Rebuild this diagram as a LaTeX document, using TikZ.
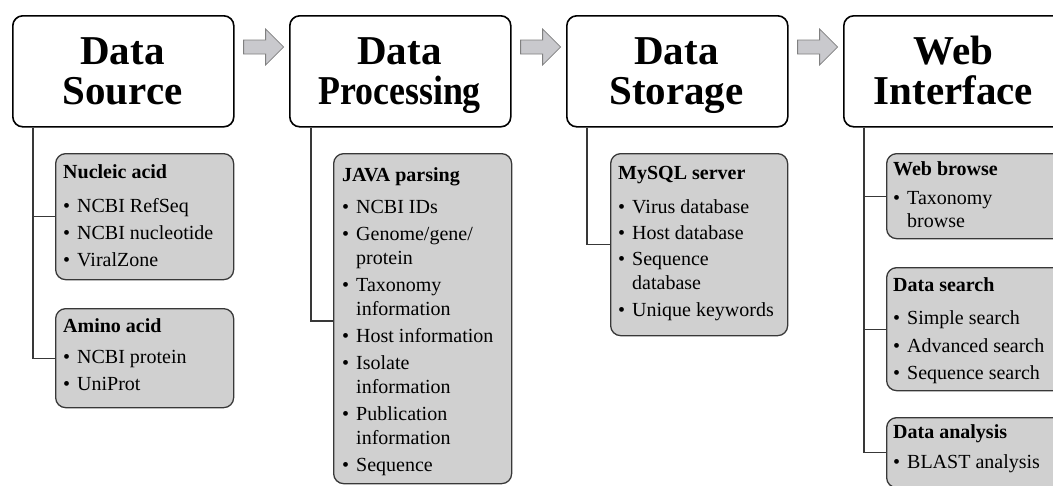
\documentclass[tikz,border=0pt]{standalone}
\usepackage{fontspec}
\setmainfont{Liberation Serif}
\usepackage{graphicx}
\usetikzlibrary{calc}
\definecolor{boxgray}{HTML}{D0D0D0}
\definecolor{arrfill}{HTML}{C9C9CD}
\definecolor{arrdraw}{HTML}{808080}
\definecolor{linegray}{HTML}{383838}
\newcommand\bul{\makebox[14pt][l]{\textbullet}}
\newcommand\ind{\hspace*{14pt}}
\begin{document}
\begin{tikzpicture}[x=1pt,y=-1pt,
  titlebox/.style={draw=black, line width=1.6pt, fill=white, rounded corners=10pt, minimum width=221pt, minimum height=111pt, inner sep=0pt, anchor=north west},
  graybox/.style={draw=linegray, line width=1.3pt, fill=boxgray, rounded corners=10pt, inner sep=0pt, anchor=north west},
  titletext/.style={inner sep=0pt, anchor=base, font=\fontsize{41}{40}\selectfont\bfseries},
  itemtext/.style={inner sep=0pt, anchor=base west, font=\fontsize{20}{24}\selectfont},
  conn/.style={draw=linegray, line width=1.1pt},
  blockarrow/.style={fill=arrfill, draw=arrdraw, line width=0.8pt, line join=miter}
]
\useasboundingbox (0,0) rectangle (1053,485);
\clip (0,0) rectangle (1053,485);

% title boxes
\node[titlebox] (src) at (12,15) {};
\node[titlebox] (proc) at (289,15) {};
\node[titlebox] (stor) at (566,15) {};
\node[titlebox] (web) at (843,15) {};

\node[titletext] (srct) at (122.5,64) {\parbox[t]{221pt}{\centering Data\\Source}};
\node[titletext] (proct) at (399.5,64) {\parbox[t]{221pt}{\centering Data\\\scalebox{0.875}[1]{Processing}}};
\node[titletext] (stort) at (676.5,64) {\parbox[t]{221pt}{\centering Data\\Storage}};
\node[titletext] (webt) at (953.5,64) {\parbox[t]{221pt}{\centering Web\\Interface}};

% block arrows
\foreach \a in {src,proc,stor}{
  \draw[blockarrow] ($(\a.north east)+(9,25)$) -- ++(22,0) -- ++(0,-11) -- ++(18,18) -- ++(-18,18) -- ++(0,-11) -- ++(-22,0) -- cycle;
}

% gray boxes
\node[graybox, minimum width=178pt, minimum height=126pt] (nuc) at (55,153) {};
\node[graybox, minimum width=178pt, minimum height=99pt] (ami) at (55,308) {};
\node[graybox, minimum width=178pt, minimum height=330pt] (java) at (333,153) {};
\node[graybox, minimum width=177pt, minimum height=182pt] (sql) at (610,153) {};
\node[graybox, minimum width=178pt, minimum height=85pt] (wb) at (886,153) {};
\node[graybox, minimum width=178pt, minimum height=123pt] (ds) at (886,267) {};
\node[graybox, minimum width=178pt, minimum height=70pt] (da) at (886,417) {};

% connectors
\draw[conn] ($(src.south west)+(21,0)$) |- (nuc.west);
\draw[conn] ($(src.south west)+(21,0)$) |- (ami.west);
\draw[conn] ($(proc.south west)+(22,0)$) |- ($(java.north west)+(0,168)$);
\draw[conn] ($(stor.south west)+(21,0)$) |- (sql.west);
\draw[conn] ($(web.south west)+(21,0)$) |- (wb.west);
\draw[conn] ($(web.south west)+(21,0)$) |- (ds.west);
\draw[conn] ($(web.south west)+(21,0)$) |- (da.west);

% texts
\node[itemtext] (nuct) at (63,178) {\parbox[t]{168pt}{\textbf{Nucleic acid}\\[10pt]\bul NCBI RefSeq\\[3pt]\bul NCBI nucleotide\\[3pt]\bul ViralZone}};
\node[itemtext] (amit) at (63,332) {\parbox[t]{168pt}{\textbf{Amino acid}\\[7pt]\bul NCBI protein\\[3pt]\bul UniProt}};
\node[itemtext] (javat) at (342,181) {\parbox[t]{168pt}{\textbf{JAVA parsing}\\[8pt]\bul NCBI IDs\\[3pt]\bul Genome/gene/\\\ind protein\\[3pt]\bul Taxonomy\\\ind information\\[3pt]\bul Host information\\[3pt]\bul Isolate\\\ind information\\[3pt]\bul Publication\\\ind information\\[3pt]\bul Sequence}};
\node[itemtext] (sqlt) at (618,179) {\parbox[t]{168pt}{\textbf{MySQL server}\\[10pt]\bul Virus database\\[2pt]\bul Host database\\[2pt]\bul Sequence\\\ind database\\[3pt]\bul Unique keywords}};
\node[itemtext] (wbt) at (893,175) {\parbox[t]{168pt}{\textbf{Web browse}\\[5pt]\bul Taxonomy\\[-1pt]\ind browse}};
\node[itemtext] (dst) at (893,291) {\parbox[t]{168pt}{\textbf{Data search}\\[9pt]\bul Simple search\\[4pt]\bul Advanced search\\[3pt]\bul Sequence search}};
\node[itemtext] (dat) at (893,438) {\parbox[t]{168pt}{\textbf{Data analysis}\\[6pt]\bul BLAST analysis}};
\end{tikzpicture}
\end{document}
